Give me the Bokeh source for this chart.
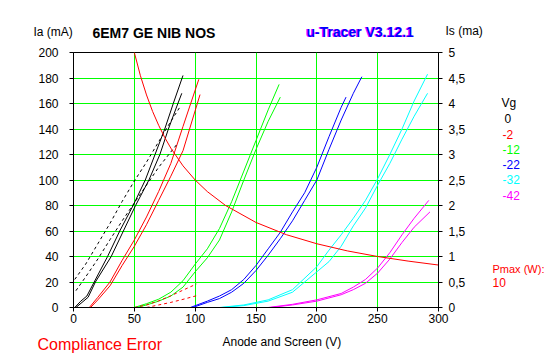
from bokeh.plotting import figure
from bokeh.models import Range1d, LinearAxis, FixedTicker, Label
from bokeh.layouts import column, row
from bokeh.embed import file_html
from bokeh.resources import INLINE

# ---------------- data ----------------
x_ticks = [0, 50, 100, 150, 200, 250, 300]
ia_ticks = [0, 20, 40, 60, 80, 100, 120, 140, 160, 180, 200]
is_ticks = [0, 0.5, 1, 1.5, 2, 2.5, 3, 3.5, 4, 4.5, 5]
is_labels = ["0", "0,5", "1", "1,5", "2", "2,5", "3", "3,5", "4", "4,5", "5"]

vg_labels = ["0", "-2", "-12", "-22", "-32", "-42"]
vg_colors = ["#000000", "#ff0000", "#00ff00", "#0000ff", "#00ffff", "#ff00ff"]

# Vg = 0 (anode current, two sections)
vg0_a_v = [1, 6, 11, 17, 28, 38, 49, 59, 67, 75, 82, 90]
vg0_a_ia = [0, 5, 9, 20, 40, 60, 80, 100, 120, 140, 160, 182]
vg0_b_v = [2, 7, 12, 18, 31, 41, 51, 62, 71, 78, 85, 89]
vg0_b_ia = [0, 4, 8, 20, 40, 60, 80, 100, 120, 140, 158, 168]
# Vg = 0 screen current (right axis)
vg0_a_is_v = [1, 10, 20, 30, 40, 50, 60, 70, 80, 88]
vg0_a_is = [0.55, 0.85, 1.25, 1.65, 2.08, 2.48, 2.85, 3.25, 3.65, 3.95]
vg0_b_is_v = [2, 10, 20, 30, 40, 50, 60, 70, 80, 85]
vg0_b_is = [0.33, 0.6, 0.95, 1.33, 1.7, 2.05, 2.4, 2.75, 3.05, 3.2]

# Vg = -2
vg2_a_v = [13, 20, 30, 40, 50, 60, 70, 80, 90, 103]
vg2_a_ia = [0, 8, 20, 37, 53, 71, 91, 113, 142, 179]
vg2_b_v = [14, 20, 30, 40, 50, 60, 70, 80, 90, 104]
vg2_b_ia = [0, 6, 17, 33, 48, 65, 84, 103, 123, 167]
vg2_a_is_v = [50, 60, 70, 80, 90, 101]
vg2_a_is = [0, 0.05, 0.13, 0.23, 0.34, 0.46]
vg2_b_is_v = [60, 70, 80, 90, 101]
vg2_b_is = [0, 0.05, 0.1, 0.16, 0.23]

# Vg = -12
vg12_a_v = [50, 60, 70, 80, 90, 100, 110, 120, 130, 140, 150, 160, 169]
vg12_a_ia = [0, 3, 6.5, 12, 21, 34, 46, 62, 83, 107, 131, 155, 175]
vg12_b_v = [52, 60, 70, 80, 90, 100, 110, 120, 130, 140, 150, 160, 170]
vg12_b_ia = [0, 2, 5, 9, 16, 28, 39, 53, 75, 100, 124, 146, 165]

# Vg = -22
vg22_a_v = [96, 110, 120, 130, 140, 150, 160, 170, 180, 190, 200, 210, 220, 224]
vg22_a_ia = [0, 5, 9, 14, 22, 33, 46, 59, 75, 90, 110, 134, 157, 165]
vg22_b_v = [98, 110, 120, 130, 140, 150, 160, 170, 180, 190, 200, 210, 220, 230, 237]
vg22_b_ia = [0, 4, 7, 12, 19, 29, 41, 54, 68, 84, 100, 124, 147, 168, 181]

# Vg = -32
vg32_a_v = [120, 140, 160, 180, 200, 210, 220, 230, 240, 250, 260, 270, 280, 291]
vg32_a_ia = [0, 2, 6, 14, 32, 45, 57, 70, 84, 101, 120, 140, 162, 183]
vg32_b_v = [122, 140, 160, 180, 200, 210, 220, 230, 240, 250, 260, 270, 280, 291]
vg32_b_ia = [0, 1.5, 5, 12, 28, 36, 48, 64, 78, 96, 113, 132, 150, 168]

# Vg = -42
vg42_a_v = [160, 180, 200, 220, 230, 240, 250, 260, 270, 280, 292]
vg42_a_ia = [0, 2.5, 6, 11, 16, 22, 31, 43, 57, 70, 84]
vg42_b_v = [162, 180, 200, 220, 230, 240, 250, 260, 270, 280, 293]
vg42_b_ia = [0, 2, 5, 10, 14, 19, 27, 38, 51, 63, 75]

# Pmax = 10 W hyperbola
pmax_v = [50, 55, 60, 65, 70, 75, 80, 90, 100, 110, 125, 150, 175, 200, 225, 250, 275, 300]
pmax_ia = [200, 181.8, 166.7, 153.8, 142.9, 133.3, 125, 111.1, 100, 90.9, 80, 66.7,
           57.1, 50, 44.4, 40, 36.4, 33.3]

# ---------------- layout geometry (page pixels) ----------------
W, H = 545, 355
TOP_H = 44            # text strip above the chart
BOT_H = 25            # text strip below the chart
MAIN_W = 470          # chart figure width; legend strip to its right
FL, FT, FW, FH = 73, 52, 365, 255   # chart frame left/top/width/height on the page
MAIN_H = H - TOP_H - BOT_H
FONT = "Liberation Sans"


def strip(width, height):
    s = figure(width=width, height=height, output_backend="svg", toolbar_location=None,
               x_axis_location=None, y_axis_location=None,
               x_range=Range1d(0, 1), y_range=Range1d(0, 1),
               min_border=0, min_border_left=0, min_border_right=0,
               min_border_top=0, min_border_bottom=0,
               background_fill_color="white", border_fill_color="white")
    s.outline_line_color = None
    s.grid.visible = False
    return s


p = figure(width=MAIN_W, height=MAIN_H, output_backend="svg", toolbar_location=None,
           x_range=Range1d(0, 300), y_range=Range1d(0, 200),
           min_border_left=FL, min_border_right=MAIN_W - FL - FW,
           min_border_top=FT - TOP_H, min_border_bottom=MAIN_H - (FT - TOP_H) - FH,
           background_fill_color="white", border_fill_color="white")
p.extra_y_ranges = {"is": Range1d(0, 5)}
p.outline_line_color = "black"
p.outline_line_width = 1

p.xgrid.ticker = FixedTicker(ticks=x_ticks)
p.ygrid.ticker = FixedTicker(ticks=ia_ticks)
for g in (p.xgrid, p.ygrid):
    g.grid_line_color = "#00ff00"
    g.grid_line_width = 1
    g.grid_line_alpha = 1


def style_axis(ax, standoff):
    ax.axis_line_color = "black"
    ax.major_tick_line_color = "black"
    ax.major_tick_in = 0
    ax.major_tick_out = 4
    ax.minor_tick_line_color = None
    ax.major_label_text_font = FONT
    ax.major_label_text_font_size = "12px"
    ax.major_label_text_color = "black"
    ax.major_label_standoff = standoff


p.xaxis.ticker = FixedTicker(ticks=x_ticks)
style_axis(p.xaxis[0], 2)
p.yaxis.ticker = FixedTicker(ticks=ia_ticks)
style_axis(p.yaxis[0], 11)

r_axis = LinearAxis(y_range_name="is", ticker=FixedTicker(ticks=is_ticks),
                    major_label_overrides={t: s for t, s in zip(is_ticks, is_labels)})
style_axis(r_axis, 6)
p.add_layout(r_axis, "right")

# ---------------- curves ----------------
solid = [
    (vg0_a_v, vg0_a_ia, vg_colors[0]), (vg0_b_v, vg0_b_ia, vg_colors[0]),
    (vg2_a_v, vg2_a_ia, vg_colors[1]), (vg2_b_v, vg2_b_ia, vg_colors[1]),
    (vg12_a_v, vg12_a_ia, vg_colors[2]), (vg12_b_v, vg12_b_ia, vg_colors[2]),
    (vg22_a_v, vg22_a_ia, vg_colors[3]), (vg22_b_v, vg22_b_ia, vg_colors[3]),
    (vg32_a_v, vg32_a_ia, vg_colors[4]), (vg32_b_v, vg32_b_ia, vg_colors[4]),
    (vg42_a_v, vg42_a_ia, vg_colors[5]), (vg42_b_v, vg42_b_ia, vg_colors[5]),
]
for xs, ys, c in solid:
    p.line(xs, ys, line_color=c, line_width=1)

dashed = [
    (vg0_a_is_v, vg0_a_is, vg_colors[0]), (vg0_b_is_v, vg0_b_is, vg_colors[0]),
    (vg2_a_is_v, vg2_a_is, vg_colors[1]), (vg2_b_is_v, vg2_b_is, vg_colors[1]),
]
for xs, ys, c in dashed:
    p.line(xs, ys, line_color=c, line_width=1, line_dash="3 3", y_range_name="is")

p.line(pmax_v, pmax_ia, line_color="#ff0000", line_width=1)

# ---------------- text strips ----------------
top = strip(W, TOP_H)
right = strip(W - MAIN_W, MAIN_H)
bottom = strip(W, BOT_H)


def lab(fig, x0, y_bottom, text, px, py, color="black", size="12px", style="normal"):
    # screen units: x from the strip frame's left edge, y up from its bottom edge
    fig.add_layout(Label(x=px - x0, y=y_bottom - py, x_units="screen", y_units="screen",
                         text=text, text_color=color, text_font=FONT,
                         text_font_size=size, text_font_style=style,
                         text_baseline="middle", text_align="left"))


lab(top, 0, TOP_H, "Ia (mA)", 33, 31)
lab(top, 0, TOP_H, "6EM7 GE NIB NOS", 92, 32, size="14px", style="bold")
lab(top, 0, TOP_H, "u-Tracer V3.12.1", 305, 31, color="#ff00ff", size="14px", style="bold")
lab(top, 0, TOP_H, "u-Tracer V3.12.1", 306, 31, color="#0000ff", size="14px", style="bold")
lab(top, 0, TOP_H, "Is (ma)", 445, 30)

# the legend strip shares the chart's frame rows (aligned inside the row)
RB = FT + FH
lab(right, MAIN_W, RB, "Vg", 501, 102)
legend_y = [118, 134, 149, 164, 179, 195]
legend_x = [504, 502, 502, 502, 502, 502]
for t, c, lx, ly in zip(vg_labels, vg_colors, legend_x, legend_y):
    lab(right, MAIN_W, RB, t, lx, ly, color=c)
lab(right, MAIN_W, RB, "Pmax (W):", 492, 268, color="#ff0000", size="11px")
lab(right, MAIN_W, RB, "10", 492, 282, color="#ff0000")

lab(bottom, 0, H, "Anode and Screen (V)", 222, 341)
lab(bottom, 0, H, "Compliance Error", 37, 344, color="#ff0000", size="16px")

layout = column(top, row(p, right, spacing=0), bottom, spacing=0)
open("out.html", "w").write(file_html(layout, INLINE))
